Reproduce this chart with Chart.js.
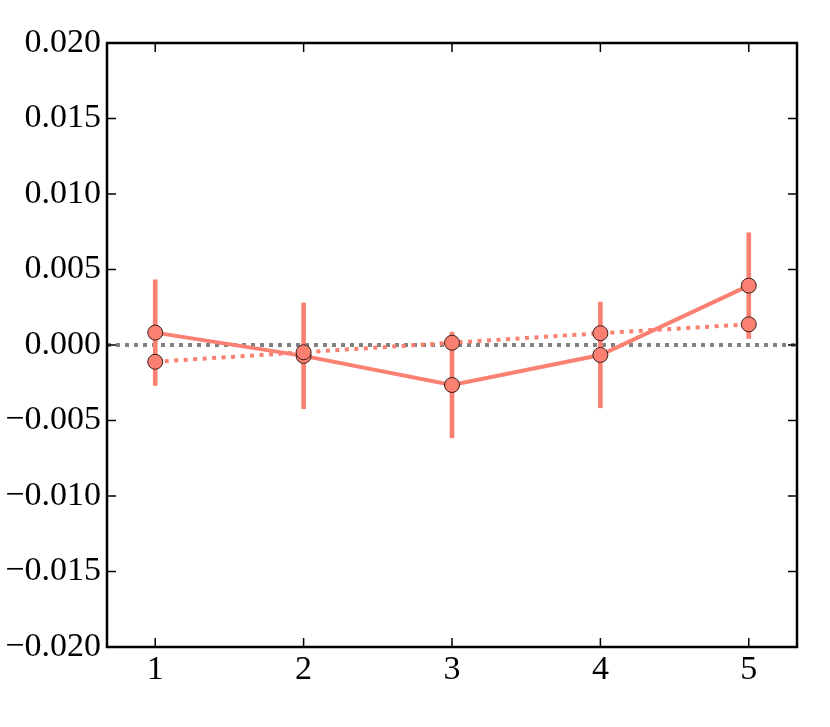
<!DOCTYPE html>
<html>
<head>
<meta charset="utf-8">
<script src="https://cdn.jsdelivr.net/npm/chart.js@4.4.0/dist/chart.umd.min.js"></script>
<style>
html, body { margin: 0; padding: 0; background: #fff; }
#wrap { width: 830px; height: 727px; }
</style>
</head>
<body>
<div id="wrap"><canvas id="chart"></canvas></div>
<script>
// data
const xValues = [1, 2, 3, 4, 5];
const solidValues = [0.00082, -0.00072, -0.00265, -0.00066, 0.00393];
const solidErrors = [0.0035, 0.0035, 0.0035, 0.0035, 0.0035];
const dottedValues = [-0.00111, -0.00048, 0.00015, 0.00078, 0.00137];
const yTicks = [-0.02, -0.015, -0.01, -0.005, 0, 0.005, 0.01, 0.015, 0.02];
const xRange = [0.675, 5.325];
const yRange = [-0.02, 0.02];
const zeroLine = [0, 0];

const salmon = '#fa8072';
const edge = '#3b1c18';
const font = { family: "'Liberation Serif', 'DejaVu Serif', serif", size: 34 };

const fmtY = v => (v < 0 ? '\u2212' : '') + Math.abs(v).toFixed(3);

// frame + inward ticks, like the classic matplotlib look
const framePlugin = {
  id: 'frame',
  afterDatasetsDraw(chart) {
    const { ctx, chartArea: a, scales } = chart;
    const tick = 9;
    ctx.save();
    ctx.strokeStyle = '#000';
    ctx.lineWidth = 1.5;
    ctx.beginPath();
    xValues.forEach(v => {
      const px = scales.x.getPixelForValue(v);
      ctx.moveTo(px, a.bottom); ctx.lineTo(px, a.bottom - tick);
      ctx.moveTo(px, a.top); ctx.lineTo(px, a.top + tick);
    });
    yTicks.forEach(v => {
      const py = scales.y.getPixelForValue(v);
      ctx.moveTo(a.left, py); ctx.lineTo(a.left + tick, py);
      ctx.moveTo(a.right, py); ctx.lineTo(a.right - tick, py);
    });
    ctx.stroke();
    ctx.lineWidth = 2.5;
    ctx.strokeRect(a.left, a.top, a.right - a.left, a.bottom - a.top);
    ctx.restore();
  }
};

new Chart(document.getElementById('chart'), {
  type: 'line',
  data: {
    datasets: [
      {
        // zero reference line
        data: xRange.map((x, i) => ({ x: x, y: zeroLine[i] })),
        borderColor: '#808080',
        borderWidth: 4,
        borderDash: [4, 5],
        pointRadius: 0,
        order: 4
      },
      {
        // error bars of the solid series
        type: 'bar',
        data: xValues.map((x, i) => ({ x: x, y: [solidValues[i] - solidErrors[i], solidValues[i] + solidErrors[i]] })),
        backgroundColor: salmon,
        borderWidth: 0,
        barThickness: 4,
        order: 3
      },
      {
        data: xValues.map((x, i) => ({ x: x, y: solidValues[i] })),
        borderColor: salmon,
        borderWidth: 4,
        pointRadius: 7.5,
        pointBackgroundColor: salmon,
        pointBorderColor: edge,
        pointBorderWidth: 1,
        order: 2
      },
      {
        data: xValues.map((x, i) => ({ x: x, y: dottedValues[i] })),
        borderColor: salmon,
        borderWidth: 4,
        borderDash: [4, 5.5],
        pointRadius: 7.5,
        pointBackgroundColor: salmon,
        pointBorderColor: edge,
        pointBorderWidth: 1,
        order: 1
      }
    ]
  },
  options: {
    responsive: true,
    maintainAspectRatio: false,
    animation: false,
    layout: { padding: { top: 43, right: 33, left: 0, bottom: 0 } },
    plugins: { legend: { display: false }, tooltip: { enabled: false } },
    scales: {
      x: {
        type: 'linear',
        min: xRange[0],
        max: xRange[1],
        offset: false,
        grid: { display: false, drawTicks: false },
        border: { display: false },
        ticks: { font: font, color: '#000', padding: 3 },
        afterBuildTicks: s => { s.ticks = xValues.map(v => ({ value: v })); },
        afterFit: s => { s.height = 80; }
      },
      y: {
        type: 'linear',
        min: yRange[0],
        max: yRange[1],
        grid: { display: false, drawTicks: false },
        border: { display: false },
        ticks: { font: font, color: '#000', padding: 6, callback: v => fmtY(v) },
        afterBuildTicks: s => { s.ticks = yTicks.map(v => ({ value: v })); },
        afterFit: s => { s.width = 107; }
      }
    }
  },
  plugins: [framePlugin]
});
</script>
</body>
</html>
